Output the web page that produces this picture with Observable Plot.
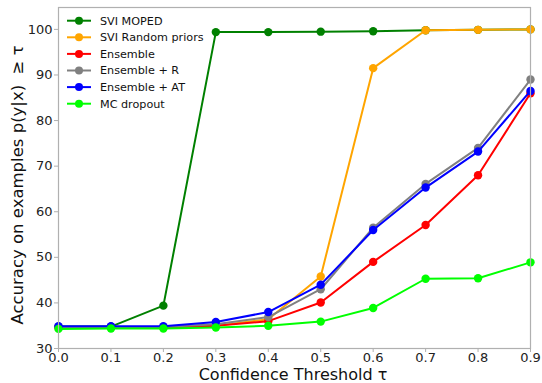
<!DOCTYPE html>
<html><head><meta charset="utf-8">
<script src="https://cdn.jsdelivr.net/npm/d3@7"></script>
<script src="https://cdn.jsdelivr.net/npm/@observablehq/plot@0.6"></script>
<style>
body{margin:0;background:#fff;}
#chart{position:relative;width:542px;height:383px;}
svg{font-family:"DejaVu Sans",sans-serif;}
</style></head>
<body><div id="chart"></div>
<script>
const thresholds = [0.0,0.1,0.2,0.3,0.4,0.5,0.6,0.7,0.8,0.9];
const seriesNames = ["SVI MOPED","SVI Random priors","Ensemble","Ensemble + R","Ensemble + AT","MC dropout"];
const seriesColors = ["#008000","#ffa500","#ff0000","#808080","#0000ff","#00ff00"];
const sviMoped      = [34.8,34.8,39.4,99.4,99.4,99.5,99.6,99.8,99.9,100.0];
const sviRandom     = [34.6,34.6,34.6,35.0,36.4,45.8,91.5,99.8,99.9,100.0];
const ensemble      = [34.6,34.6,34.6,35.0,36.0,40.1,49.0,57.1,68.0,86.0];
const ensembleR     = [34.7,34.7,34.7,35.3,36.9,43.0,56.5,66.1,74.0,89.0];
const ensembleAT    = [34.9,34.9,34.9,35.8,38.0,44.0,56.0,65.3,73.2,86.5];
const mcDropout     = [34.3,34.4,34.4,34.6,35.0,35.9,38.9,45.3,45.4,48.9];
const xTicks = [0.0,0.1,0.2,0.3,0.4,0.5,0.6,0.7,0.8,0.9];
const yTicks = [30,40,50,60,70,80,90,100];

const allSeries = [sviMoped,sviRandom,ensemble,ensembleR,ensembleAT,mcDropout];
const data = [];
allSeries.forEach((vals,i)=>vals.forEach((v,j)=>data.push({series:seriesNames[i],x:thresholds[j],y:v})));

const color = {domain:seriesNames, range:seriesColors};
const marks = [];
seriesNames.forEach(name=>{
  const d = data.filter(r=>r.series===name);
  marks.push(Plot.line(d,{x:"x",y:"y",stroke:"series",strokeWidth:2}));
  marks.push(Plot.dot(d,{x:"x",y:"y",fill:"series",r:4.2}));
});
marks.push(Plot.frame({stroke:"#b0b0b0",strokeWidth:1.2}));

const plot = Plot.plot({
  width:542,height:383,
  marginLeft:58,marginRight:12,marginTop:7,marginBottom:35,
  style:{fontFamily:"DejaVu Sans, sans-serif",fontSize:"13px",color:"#222",background:"#fff"},
  x:{domain:[0,0.9],ticks:xTicks,tickFormat:d3.format(".1f"),tickSize:4,label:null},
  y:{domain:[30,104.8],ticks:yTicks,tickSize:4,label:null},
  color,
  marks:[
    Plot.axisX({ticks:xTicks,tickFormat:d3.format(".1f"),tickSize:4,stroke:"#b0b0b0",fill:"#222",fontSize:13,tickPadding:0,label:null}),
    Plot.axisY({ticks:yTicks,tickSize:4,stroke:"#b0b0b0",fill:"#222",fontSize:13,tickPadding:2,label:null}),
    ...marks
  ]
});
document.getElementById("chart").appendChild(plot);

const svg = d3.select(plot);
// axis titles
svg.append("text").attr("x",293).attr("y",380).attr("text-anchor","middle")
  .attr("font-size",16).attr("fill","#111").text("Confidence Threshold τ");
svg.append("text").attr("transform","translate(23,185) rotate(-90)").attr("text-anchor","middle")
  .attr("font-size",16.5).attr("fill","#111").text("Accuracy on examples p(y|x)  ≥ τ");
// legend
const lg = svg.append("g");
seriesNames.forEach((name,i)=>{
  const yy = 20.7 + i*16.6;
  lg.append("line").attr("x1",67).attr("x2",91).attr("y1",yy).attr("y2",yy)
    .attr("stroke",seriesColors[i]).attr("stroke-width",2);
  lg.append("circle").attr("cx",79).attr("cy",yy).attr("r",4).attr("fill",seriesColors[i]);
  lg.append("text").attr("x",100).attr("y",yy).attr("dy","0.35em").attr("text-anchor","start")
    .attr("font-size",11.2).attr("fill","#111").text(name);
});
</script>
</body></html>
